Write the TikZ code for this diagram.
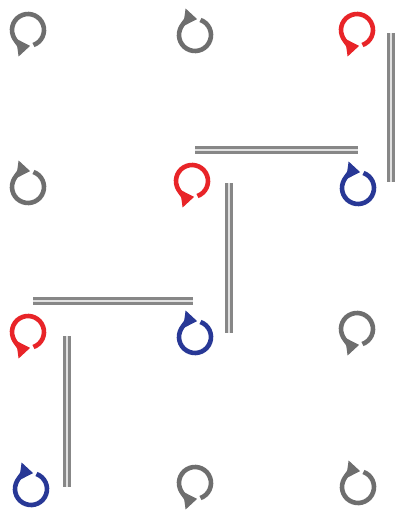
\documentclass[tikz,border=0pt]{standalone}
\usetikzlibrary{arrows.meta}
\definecolor{spinred}{RGB}{232,36,40}
\definecolor{spinblue}{RGB}{40,56,150}
\definecolor{spingray}{RGB}{110,110,110}
\definecolor{bondgray}{RGB}{135,135,135}
\tikzset{
  spin/.style={line width=4.6pt,-{Triangle[length=13pt,width=17pt]}},
  lo/.pic={\draw[spin] (-70:16) arc[start angle=-70,end angle=278,radius=16];},
  hi/.pic={\draw[spin] (70:16) arc[start angle=70,end angle=-278,radius=16];},
  bond/.style={draw=bondgray,line width=2.8pt,double=bondgray!25,double distance=2.8pt}
}
\begin{document}
\begin{tikzpicture}[x=1pt,y=1pt]
\useasboundingbox (0,0) rectangle (397,-519);
% lattice sites
\coordinate (s11) at (28,-30);
\coordinate (s12) at (195,-35);
\coordinate (s13) at (357,-30);
\coordinate (s21) at (28,-187);
\coordinate (s22) at (192,-181);
\coordinate (s23) at (358,-188);
\coordinate (s31) at (28,-332);
\coordinate (s32) at (195,-337);
\coordinate (s33) at (357,-329);
\coordinate (s41) at (31,-489);
\coordinate (s42) at (195,-483);
\coordinate (s43) at (358,-487);
% spins
\pic[spingray] at (s11) {lo};
\pic[spingray] at (s12) {hi};
\pic[spinred] at (s13) {lo};
\pic[spingray] at (s21) {hi};
\pic[spinred] at (s22) {lo};
\pic[spinblue] at (s23) {hi};
\pic[spinred] at (s31) {lo};
\pic[spinblue] at (s32) {hi};
\pic[spingray] at (s33) {lo};
\pic[spinblue] at (s41) {hi};
\pic[spingray] at (s42) {lo};
\pic[spingray] at (s43) {hi};
% singlet bonds
\draw[bond] ([xshift=34pt,yshift=-3pt]s13) -- ([xshift=33pt,yshift=6pt]s23);
\draw[bond] ([xshift=3pt,yshift=31pt]s22) -- ([yshift=38pt]s23);
\draw[bond] ([xshift=37pt,yshift=-2pt]s22) -- ([xshift=34pt,yshift=4pt]s32);
\draw[bond] ([xshift=5pt,yshift=31pt]s31) -- ([xshift=-2pt,yshift=36pt]s32);
\draw[bond] ([xshift=39pt,yshift=-4pt]s31) -- ([xshift=36pt,yshift=2pt]s41);
\end{tikzpicture}
\end{document}
